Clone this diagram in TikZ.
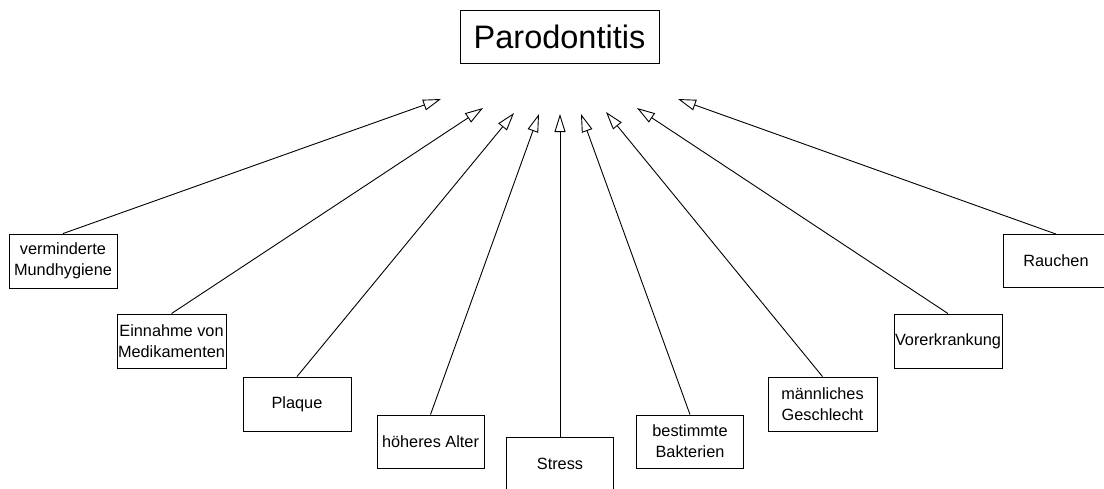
\documentclass[tikz,border=0pt]{standalone}
\usepackage{fontspec}
\setmainfont{Liberation Sans}
\usetikzlibrary{arrows.meta}
\begin{document}
\begin{tikzpicture}[x=1pt,y=-1pt,
  cause/.style={draw, line width=0.9pt, align=center, inner sep=1pt,
    font=\fontsize{16.3}{21}\selectfont},
  titlebox/.style={draw, line width=1pt, minimum width=199pt, minimum height=53pt,
    font=\fontsize{32.5}{36}\selectfont},
  arr/.style={line width=0.9pt, -{Triangle[open, length=18pt, width=11pt, fill=white]}}]
\useasboundingbox (0,0) rectangle (1104,488);
\clip (0,0) rectangle (1104,488);
\node[titlebox] (P) at (559.5,36.5) {Parodontitis};

\node[cause, minimum width=108pt, minimum height=54pt] (b1) at (63,261) {verminderte\\Mundhygiene};
\node[cause, minimum width=109pt, minimum height=54pt] (b2) at (171.5,341) {Einnahme von\\Medikamenten};
\node[cause, minimum width=108pt, minimum height=54pt] (b3) at (297,404) {Plaque};
\node[cause, minimum width=107pt, minimum height=53pt] (b4) at (430.5,441.5) {höheres Alter};
\node[cause, minimum width=107pt, minimum height=54pt] (b5) at (560,464) {Stress};
\node[cause, minimum width=107pt, minimum height=53pt] (b6) at (690,441.5) {bestimmte\\Bakterien};
\node[cause, minimum width=109pt, minimum height=54pt] (b7) at (822.5,404) {männliches\\Geschlecht};
\node[cause, minimum width=108pt, minimum height=54pt] (b8) at (948,341) {Vorerkrankung};
\node[cause, minimum width=106pt, minimum height=53pt] (b9) at (1056,261) {Rauchen};

\coordinate (t1) at (441,99);
\coordinate (t2) at (483,108);
\coordinate (t3) at (514,113);
\coordinate (t4) at (539,114);
\coordinate (t5) at (560,114);
\coordinate (t6) at (581,114);
\coordinate (t7) at (606,112);
\coordinate (t8) at (637,108);
\coordinate (t9) at (678,99);

\foreach \i in {1,...,9} {
  \draw[arr] (b\i.north) -- (t\i);
}
\end{tikzpicture}
\end{document}
